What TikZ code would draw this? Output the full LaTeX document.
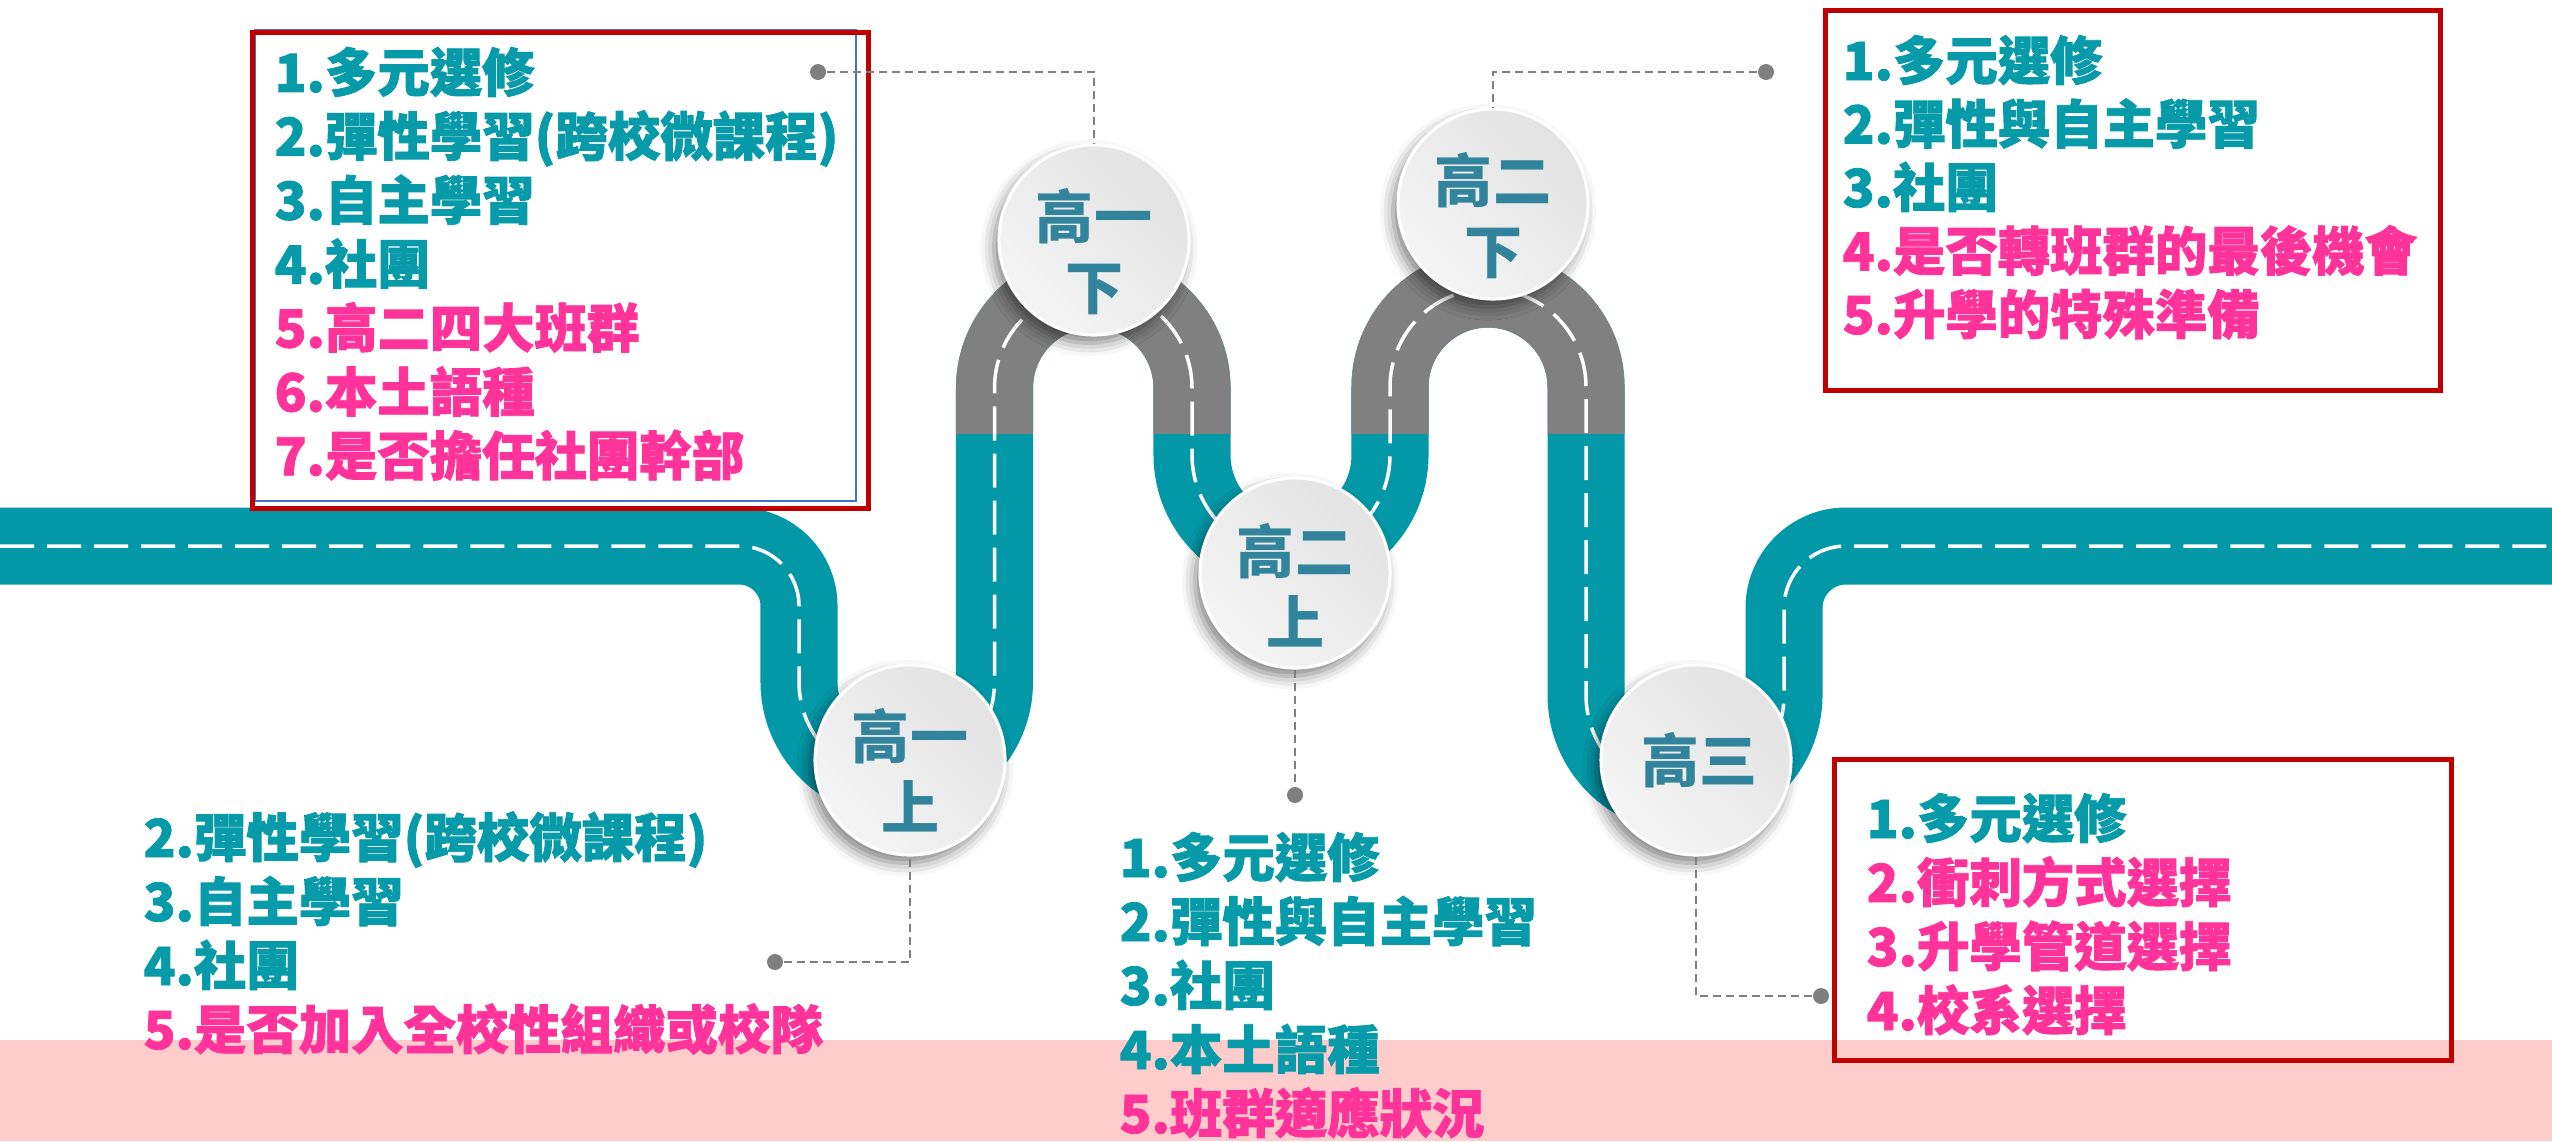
\documentclass[tikz,border=0pt]{standalone}
\usepackage{fontspec}
\setmainfont{Noto Sans CJK TC}
\newfontfamily\heavycjk{Noto Sans CJK TC}[BoldFeatures={FakeBold=1.6}]
\usetikzlibrary{shadows.blur}

\definecolor{roadteal}{HTML}{0398A8}
\definecolor{roadgray}{HTML}{808080}
\definecolor{tealtxt}{HTML}{079AA8}
\definecolor{pinktxt}{HTML}{FF3399}
\definecolor{circtxt}{HTML}{31849B}
\definecolor{boxred}{HTML}{C00000}
\definecolor{boxblue}{HTML}{4472C4}
\definecolor{bandpink}{HTML}{FFCCCC}
\definecolor{linkgray}{HTML}{7F7F7F}

\tikzset{
  roadbed/.style={line width=0.77cm, line cap=butt},
  roadmark/.style={draw=white, line width=0.035cm, dash pattern=on 0.34cm off 0.13cm},
  stage/.style={circle, minimum size=1.9cm, inner sep=0pt, draw=white, line width=0.03cm,
    top color=black!11!white, bottom color=black!4!white, shading angle=-45,
    blur shadow={shadow xshift=-0.05cm, shadow yshift=-0.08cm, shadow blur radius=0.13cm, shadow opacity=50}},
  stagetext/.style={text=circtxt, align=center, inner sep=0pt, font=\bfseries\fontsize{16.5}{20.2}\selectfont},
  listline/.style={anchor=base west, inner sep=0pt, font=\heavycjk\bfseries\fontsize{14.9}{18}\selectfont},
  redframe/.style={draw=boxred, line width=0.05cm},
  dotend/.style={circle, fill=linkgray, minimum size=0.16cm, inner sep=0pt},
  leader/.style={draw=linkgray, line width=0.025cm, dash pattern=on 0.08cm off 0.05cm},
}

\begin{document}
\begin{tikzpicture}[x=0.01cm, y=-0.01cm]

  \useasboundingbox (0,0) rectangle (2552,1141);

  % pink band at the bottom
  \fill[bandpink] (0,1040) rectangle (2552,1141);

  % road
  \path[save path=\roadline] (0,546) -- (739,546)
    arc[start angle=-90, end angle=0, radius=60] -- (799,682)
    arc[start angle=180, end angle=0, radius=97.75] -- (994.5,388)
    arc[start angle=180, end angle=360, radius=98.75] -- (1192,455)
    arc[start angle=180, end angle=0, radius=99] -- (1390,387)
    arc[start angle=180, end angle=360, radius=98] -- (1586,695)
    arc[start angle=180, end angle=0, radius=99] -- (1784,608)
    arc[start angle=180, end angle=270, radius=62] -- (2552,546);
  \draw[roadbed, roadteal, use path=\roadline];
  \begin{scope}
    \clip (0,0) rectangle (2552,433);
    \draw[roadbed, roadgray, use path=\roadline];
  \end{scope}
  \draw[roadmark, use path=\roadline];

  % frames
  \draw[boxblue, line width=0.015cm] (255,30) rectangle (856,501);
  \draw[redframe] (252,32.5) rectangle (868,508);
  \draw[redframe] (1825,10) rectangle (2440,390);
  \draw[redframe] (1834,759) rectangle (2451,1060);

  % lists
  \foreach \txt/\clr [count=\i] in {{1.多元選修}/tealtxt, {2.彈性學習(跨校微課程)}/tealtxt,
      {3.自主學習}/tealtxt, {4.社團}/tealtxt, {5.高二四大班群}/pinktxt,
      {6.本土語種}/pinktxt, {7.是否擔任社團幹部}/pinktxt}
    \node[listline, text=\clr] (la-\i) at (274,{28+63.9*\i}) {\txt}; %
  \foreach \txt/\clr [count=\i] in {{1.多元選修}/tealtxt, {2.彈性與自主學習}/tealtxt,
      {3.社團}/tealtxt, {4.是否轉班群的最後機會}/pinktxt, {5.升學的特殊準備}/pinktxt}
    \node[listline, text=\clr] (lb-\i) at (1842,{16.5+63.5*\i}) {\txt}; %
  \foreach \txt/\clr [count=\i] in {{1.多元選修}/tealtxt, {2.衝刺方式選擇}/pinktxt,
      {3.升學管道選擇}/pinktxt, {4.校系選擇}/pinktxt}
    \node[listline, text=\clr] (lc-\i) at (1866,{774+64*\i}) {\txt}; %
  \foreach \txt/\clr [count=\i] in {{2.彈性學習(跨校微課程)}/tealtxt, {3.自主學習}/tealtxt,
      {4.社團}/tealtxt, {5.是否加入全校性組織或校隊}/pinktxt}
    \node[listline, text=\clr] (ld-\i) at (143,{793+64*\i}) {\txt}; %
  \foreach \txt/\clr [count=\i] in {{1.多元選修}/tealtxt, {2.彈性與自主學習}/tealtxt,
      {3.社團}/tealtxt, {4.本土語種}/tealtxt, {5.班群適應狀況}/pinktxt}
    \node[listline, text=\clr] (le-\i) at (1119,{813+64*\i}) {\txt}; %

  % stages
  \node[stage] (g1u) at (910,760)  {}; %
  \node[stage] (g1d) at (1094,240) {}; %
  \node[stage] (g2u) at (1295,573) {}; %
  \node[stage] (g2d) at (1493,204) {}; %
  \node[stage] (g3)  at (1696,760) {}; %
  \node[stagetext] (g1u-t) at ([yshift=-0.1cm]g1u.center) {高一\\上}; %
  \node[stagetext] (g1d-t) at ([yshift=-0.12cm]g1d.center) {高一\\下}; %
  \node[stagetext] (g2u-t) at ([yshift=-0.12cm]g2u.center) {高二\\上}; %
  \node[stagetext] (g2d-t) at ([yshift=-0.12cm]g2d.center) {高二\\下}; %
  \node[stagetext] (g3-t)  at ([xshift=0.03cm]g3.center)   {高三}; %

  % leaders
  \node[dotend] (pa) at (818,72)   {}; %
  \node[dotend] (pb) at (1766,72)  {}; %
  \node[dotend] (pc) at (775,962)  {}; %
  \node[dotend] (pd) at (1295,795) {}; %
  \node[dotend] (pe) at (1821,996) {}; %
  \draw[leader] (pa) -| (g1d);
  \draw[leader] (pb) -| (g2d);
  \draw[leader] (pc) -| (g1u);
  \draw[leader] (g2u) -- (pd);
  \draw[leader] (g3) |- (pe);

\end{tikzpicture}
\end{document}
